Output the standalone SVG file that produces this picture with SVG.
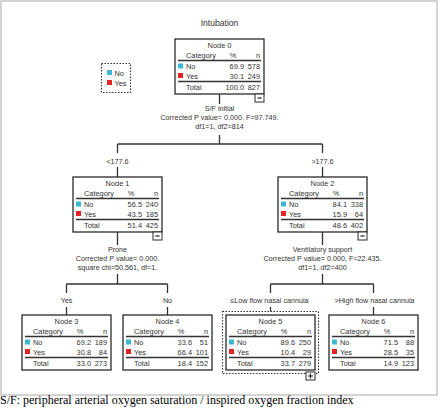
<svg xmlns="http://www.w3.org/2000/svg" width="440" height="410" viewBox="0 0 440 410">
<style>
text{font-family:"Liberation Sans",Arial,sans-serif;fill:#333}
.t{font-size:7.4px}
.m{text-anchor:middle}
.e{text-anchor:end}
.lb{font-size:7.2px;text-anchor:middle}
.title{font-size:8.6px;text-anchor:middle}
.box{fill:#fff;stroke:#2a2a2a;stroke-width:1.3}
.sep{stroke:#333;stroke-width:1.5}
.c{stroke:#333;stroke-width:1.3;fill:none}
.no{fill:#3db8d3}
.yes{fill:#e42424}
.tog{fill:#fff;stroke:#2a2a2a;stroke-width:1}
.foot{font-family:"Liberation Serif","Times New Roman",serif;font-size:12px;fill:#000}
</style>
<defs>
<g id="tbl">
<rect class="box" x="0" y="0" width="89" height="55"/>
<text class="t" x="11" y="18.5">Category</text>
<text class="t m" x="58" y="18.5">%</text>
<text class="t e" x="85" y="18.5">n</text>
<line class="sep" x1="3" y1="21.5" x2="86" y2="21.5"/>
<rect class="no" x="3" y="24.5" width="5" height="5"/>
<text class="t" x="11" y="30">No</text>
<rect class="yes" x="3" y="34" width="5" height="5"/>
<text class="t" x="11" y="39.5">Yes</text>
<line class="sep" x1="3" y1="42.5" x2="86" y2="42.5"/>
<text class="t" x="11" y="51">Total</text>
</g>
<g id="minus">
<rect class="tog" x="0" y="0" width="9" height="8"/>
<line x1="2.5" y1="4" x2="6.5" y2="4" stroke="#2a2a2a" stroke-width="1.3"/>
</g>
</defs>
<rect x="1" y="1" width="436" height="394" fill="#fff" stroke="#c8c8c8" stroke-width="1.6"/>
<text class="title" x="219.5" y="26">Intubation</text>
<g id="legend">
<rect x="101.5" y="63.5" width="29" height="29" fill="none" stroke="#333" stroke-width="1.1" stroke-dasharray="1.5,1.5"/>
<rect class="no" x="107" y="70" width="5" height="5"/>
<text class="t" x="114.5" y="76">No</text>
<rect class="yes" x="107" y="80" width="5" height="5"/>
<text class="t" x="114.5" y="86">Yes</text>
</g>
<g id="connectors">
<path class="c" d="M219.5 94V104M219.5 135V144M117.5 144H322.5M117.5 144V153M117.5 167V177M322.5 144V153M322.5 167V177"/>
<path class="c" d="M117.5 231V245M117.5 274V284M66.5 284H167.5M66.5 284V293M66.5 307V315M167.5 284V293M167.5 307V315"/>
<path class="c" d="M322.5 231V245M322.5 274V284M270.5 284H373.5M270.5 284V293M270.5 307V311.5M373.5 284V293M373.5 307V315"/>
<text class="lb" x="219.5" y="111">S/F initial</text>
<text class="lb" x="219.5" y="120">Corrected P value= 0.000. F=97.749.</text>
<text class="lb" x="219.5" y="129">df1=1, df2=814</text>
<text class="lb" x="117.5" y="164">&lt;177.6</text>
<text class="lb" x="322.5" y="164">&gt;177.6</text>
<text class="lb" x="117.5" y="252">Prone</text>
<text class="lb" x="117.5" y="261">Corrected P value= 0.000.</text>
<text class="lb" x="117.5" y="270">square chi=50.561, df=1.</text>
<text class="lb" x="66.5" y="303">Yes</text>
<text class="lb" x="167.5" y="303">No</text>
<text class="lb" x="322.5" y="252">Ventilatory support</text>
<text class="lb" x="322.5" y="261">Corrected P value= 0.000, F=22.435.</text>
<text class="lb" x="322.5" y="270">df1=1, df2=400</text>
<text class="lb" x="269.5" y="303">≤Low flow nasal cannula</text>
<text class="lb" x="374.5" y="303">&gt;High flow nasal cannula</text>
</g>
<g id="node0">
<use href="#tbl" x="175" y="39"/>
<text class="t m" x="219.5" y="48">Node 0</text>
<text class="t e" x="244" y="69">69.9</text><text class="t e" x="260" y="69">578</text>
<text class="t e" x="244" y="78.5">30.1</text><text class="t e" x="260" y="78.5">249</text>
<text class="t e" x="244" y="90">100.0</text><text class="t e" x="260" y="90">827</text>
<use href="#minus" x="255" y="94"/>
</g>
<g id="node1">
<use href="#tbl" x="73" y="177"/>
<text class="t m" x="117.5" y="186">Node 1</text>
<text class="t e" x="142" y="207">56.5</text><text class="t e" x="158" y="207">240</text>
<text class="t e" x="142" y="216.5">43.5</text><text class="t e" x="158" y="216.5">185</text>
<text class="t e" x="142" y="228">51.4</text><text class="t e" x="158" y="228">425</text>
<use href="#minus" x="153" y="232"/>
</g>
<g id="node2">
<use href="#tbl" x="278" y="177"/>
<text class="t m" x="322.5" y="186">Node 2</text>
<text class="t e" x="347" y="207">84.1</text><text class="t e" x="363" y="207">338</text>
<text class="t e" x="347" y="216.5">15.9</text><text class="t e" x="363" y="216.5">64</text>
<text class="t e" x="347" y="228">48.6</text><text class="t e" x="363" y="228">402</text>
<use href="#minus" x="358" y="232"/>
</g>
<g id="node3">
<use href="#tbl" x="22" y="315"/>
<text class="t m" x="66.5" y="324">Node 3</text>
<text class="t e" x="91" y="345">69.2</text><text class="t e" x="107" y="345">189</text>
<text class="t e" x="91" y="354.5">30.8</text><text class="t e" x="107" y="354.5">84</text>
<text class="t e" x="91" y="366">33.0</text><text class="t e" x="107" y="366">273</text>
</g>
<g id="node4">
<use href="#tbl" x="123" y="315"/>
<text class="t m" x="167.5" y="324">Node 4</text>
<text class="t e" x="192" y="345">33.6</text><text class="t e" x="208" y="345">51</text>
<text class="t e" x="192" y="354.5">66.4</text><text class="t e" x="208" y="354.5">101</text>
<text class="t e" x="192" y="366">18.4</text><text class="t e" x="208" y="366">152</text>
</g>
<g id="node5">
<rect x="222.5" y="311.5" width="96" height="62" fill="none" stroke="#333" stroke-width="1.1" stroke-dasharray="1.5,1.5"/>
<use href="#tbl" x="226" y="315"/>
<text class="t m" x="270.5" y="324">Node 5</text>
<text class="t e" x="295" y="345">89.6</text><text class="t e" x="311" y="345">250</text>
<text class="t e" x="295" y="354.5">10.4</text><text class="t e" x="311" y="354.5">29</text>
<text class="t e" x="295" y="366">33.7</text><text class="t e" x="311" y="366">279</text>
<rect class="tog" x="306" y="372" width="9" height="8"/>
<path d="M308 376H313M310.5 373.5V378.5" stroke="#2a2a2a" stroke-width="1.2"/>
</g>
<g id="node6">
<use href="#tbl" x="329" y="315"/>
<text class="t m" x="373.5" y="324">Node 6</text>
<text class="t e" x="398" y="345">71.5</text><text class="t e" x="414" y="345">88</text>
<text class="t e" x="398" y="354.5">28.5</text><text class="t e" x="414" y="354.5">35</text>
<text class="t e" x="398" y="366">14.9</text><text class="t e" x="414" y="366">123</text>
</g>
<text class="foot" x="0" y="404">S/F: peripheral arterial oxygen saturation / inspired oxygen fraction index</text>
</svg>
